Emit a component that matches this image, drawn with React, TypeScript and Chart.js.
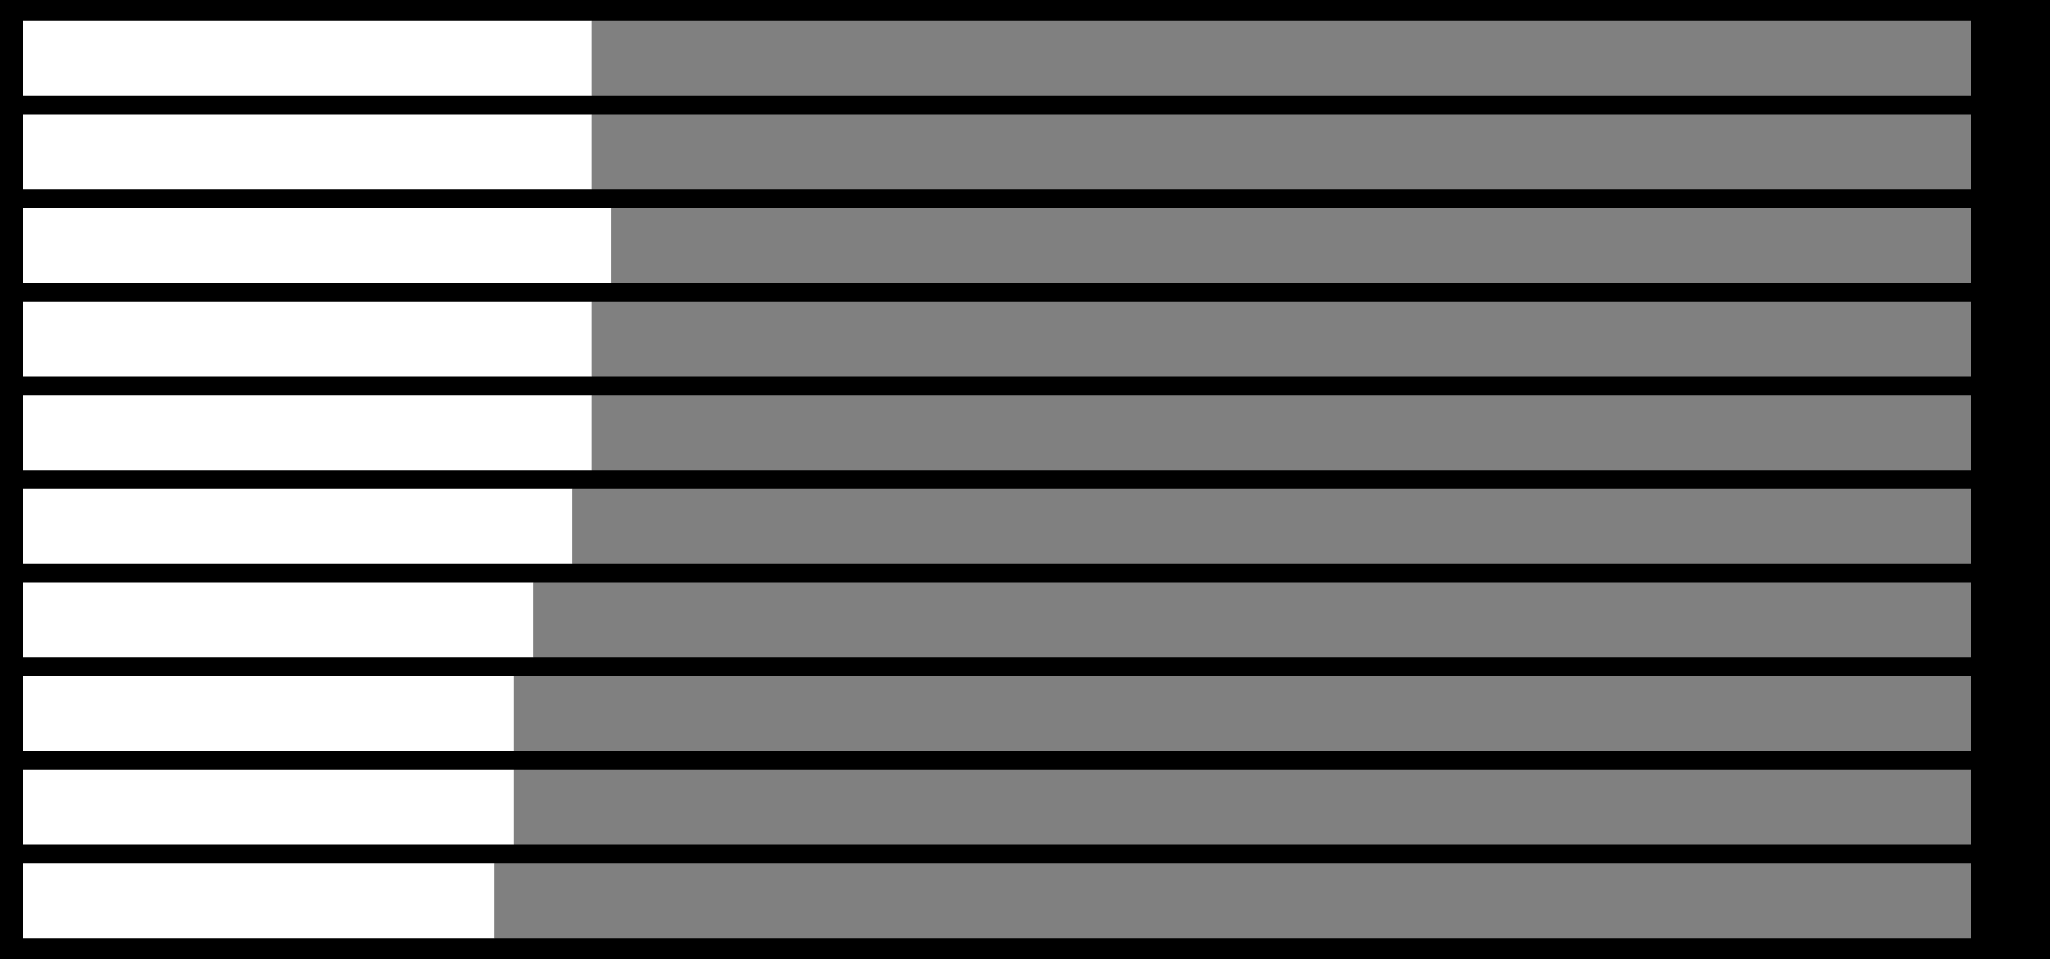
import React, { useEffect, useRef } from "react";
import { Chart, registerables } from "chart.js";

Chart.register(...registerables);

// Ten rows, each split into a white share and a gray remainder (percent).
const categories = ["1", "2", "3", "4", "5", "6", "7", "8", "9", "10"];
const whiteShare = [29.2, 29.2, 30.2, 29.2, 29.2, 28.2, 26.2, 25.2, 25.2, 24.2];
const grayShare = [70.8, 70.8, 69.8, 70.8, 70.8, 71.8, 73.8, 74.8, 74.8, 75.8];

export default function App() {
  const canvasRef = useRef<HTMLCanvasElement | null>(null);

  useEffect(() => {
    document.body.style.margin = "0";
    document.body.style.background = "#000";
    const canvas = canvasRef.current;
    if (!canvas) return;
    const chart = new Chart(canvas, {
      type: "bar",
      data: {
        labels: categories,
        datasets: [
          {
            label: "white",
            data: whiteShare,
            backgroundColor: "#ffffff",
            borderWidth: 0,
            categoryPercentage: 0.8,
            barPercentage: 1,
          },
          {
            label: "gray",
            data: grayShare,
            backgroundColor: "#808080",
            borderWidth: 0,
            categoryPercentage: 0.8,
            barPercentage: 1,
          },
        ],
      },
      options: {
        indexAxis: "y",
        animation: false,
        responsive: false,
        maintainAspectRatio: false,
        layout: { padding: { left: 23, right: 79, top: 11.5, bottom: 11.5 } },
        plugins: {
          legend: { display: false },
          tooltip: { enabled: false },
        },
        scales: {
          x: { stacked: true, min: 0, max: 100, display: false },
          y: { stacked: true, display: false },
        },
      },
    });
    return () => chart.destroy();
  }, []);

  return (
    <div style={{ position: "fixed", left: 0, top: 0, width: 2050, height: 959, background: "#000" }}>
      <canvas ref={canvasRef} width={2050} height={959} style={{ display: "block" }} />
    </div>
  );
}
